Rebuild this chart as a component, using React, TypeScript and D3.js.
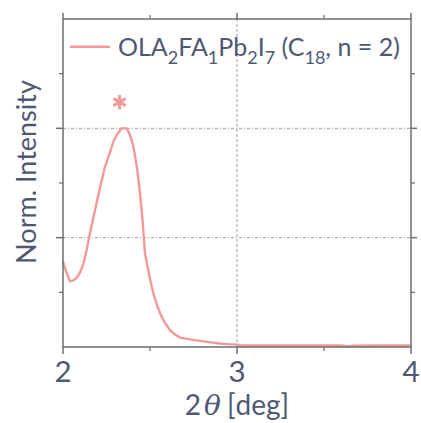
import React from "react";
import * as d3 from "d3";

// 2θ positions (deg) and normalized intensity of the low-angle reflection
const twoTheta = [
  2.0, 2.02, 2.04, 2.06, 2.082, 2.1, 2.117, 2.135, 2.155, 2.185, 2.213, 2.24, 2.27, 2.29,
  2.309, 2.337, 2.366, 2.385, 2.404, 2.425, 2.443, 2.458, 2.471, 2.495, 2.519, 2.543,
  2.567, 2.59, 2.615, 2.642, 2.672, 2.73, 2.787, 2.85, 2.9, 2.95, 3.0, 3.03, 3.2, 3.4,
  3.6, 3.63, 3.645, 3.66, 3.8, 4.0,
];
const intensity = [
  0.39, 0.34, 0.30, 0.305, 0.32, 0.345, 0.38, 0.44, 0.52, 0.63, 0.73, 0.82, 0.89, 0.94,
  0.97, 1.0, 1.0, 0.97, 0.92, 0.82, 0.70, 0.57, 0.43, 0.33, 0.245, 0.185,
  0.138, 0.105, 0.077, 0.058, 0.043, 0.035, 0.028, 0.021, 0.016, 0.013, 0.011, 0.007, 0.007, 0.007,
  0.007, 0.004, 0.002, 0.006, 0.007, 0.007,
];

// position of the peak marker (2θ, intensity)
const peakMark = [2.325, 1.12];

const xMajorTicks = [2, 3, 4];
const xMinorTicks = [2.5, 3.5];
const yMajorTicks = [0.5, 1.0];
const yMinorTicks = [0.25, 0.75, 1.25];
const xGrid = [3];

const W = 421;
const H = 423;
const margin = { left: 63, right: 10, top: 19, bottom: 76 };
const axisColor = "#6e6e6e";
const gridColor = "#a0a0a0";
const textColor = "#4f5873";
const lineColor = "#f29a97";
const font = "Lato, 'Open Sans', sans-serif";

export default function App() {
  const x = d3.scaleLinear().domain([2, 4]).range([margin.left, W - margin.right]);
  const y = d3.scaleLinear().domain([0, 1.5]).range([H - margin.bottom, margin.top]);
  const [x0, x1] = x.range();
  const [y0, y1] = y.range();

  const line = d3
    .line<number>()
    .x((_, i) => x(twoTheta[i]))
    .y((d) => y(d))
    .curve(d3.curveLinear);

  const asterisk = d3.symbol(d3.symbolAsterisk, 140)();

  return (
    <svg width={W} height={H} style={{ position: "absolute", left: 0, top: 0 }}>
      <rect width={W} height={H} fill="#fff" />

      {/* grid */}
      {yMajorTicks.map((t) => (
        <line key={"gy" + t} x1={x0} x2={x1} y1={y(t)} y2={y(t)} stroke={gridColor}
          strokeWidth={1} strokeDasharray="3,2,1,2" />
      ))}
      {xGrid.map((t) => (
        <line key={"gx" + t} x1={x(t)} x2={x(t)} y1={y0} y2={y1} stroke={gridColor}
          strokeWidth={1} strokeDasharray="3,2" />
      ))}

      {/* data */}
      <path d={line(intensity) ?? ""} fill="none" stroke={lineColor} strokeWidth={2.4}
        strokeLinejoin="round" />

      {/* peak marker */}
      <path d={asterisk ?? ""} transform={`translate(${x(peakMark[0])},${y(peakMark[1])})`}
        fill="none" stroke={lineColor} strokeWidth={3} />

      {/* frame */}
      <rect x={x0} y={y1} width={x1 - x0} height={y0 - y1} fill="none" stroke={axisColor}
        strokeWidth={1.5} />

      {/* ticks, outward on all four sides */}
      {xMajorTicks.map((t) => (
        <g key={"xt" + t}>
          <line x1={x(t)} x2={x(t)} y1={y0} y2={y0 + 7} stroke={axisColor} strokeWidth={1.5} />
          <line x1={x(t)} x2={x(t)} y1={y1} y2={y1 - 6} stroke={axisColor} strokeWidth={1.5} />
        </g>
      ))}
      {xMinorTicks.map((t) => (
        <g key={"xm" + t}>
          <line x1={x(t)} x2={x(t)} y1={y0} y2={y0 + 4} stroke={axisColor} strokeWidth={1.2} />
          <line x1={x(t)} x2={x(t)} y1={y1} y2={y1 - 4} stroke={axisColor} strokeWidth={1.2} />
        </g>
      ))}
      {yMajorTicks.map((t) => (
        <g key={"yt" + t}>
          <line x1={x0} x2={x0 - 7} y1={y(t)} y2={y(t)} stroke={axisColor} strokeWidth={1.5} />
          <line x1={x1} x2={x1 + 6} y1={y(t)} y2={y(t)} stroke={axisColor} strokeWidth={1.5} />
        </g>
      ))}
      {yMinorTicks.map((t) => (
        <g key={"ym" + t}>
          <line x1={x0} x2={x0 - 4} y1={y(t)} y2={y(t)} stroke={axisColor} strokeWidth={1.2} />
          <line x1={x1} x2={x1 + 4} y1={y(t)} y2={y(t)} stroke={axisColor} strokeWidth={1.2} />
        </g>
      ))}

      {/* tick labels */}
      {xMajorTicks.map((t) => (
        <text key={"xl" + t} x={x(t)} y={382} fill={textColor} fontSize={29.5} fontFamily={font}
          textAnchor="middle">{t}</text>
      ))}

      {/* axis titles */}
      <text x={237} y={415} fill={textColor} fontSize={28} fontFamily={font} textAnchor="middle">
        2<tspan fontFamily="'DejaVu Serif', serif" fontStyle="italic" dx={3}>θ</tspan>
        <tspan dx={6}>[deg]</tspan>
      </text>
      <text transform={`translate(36,${172}) rotate(-90)`} fill={textColor} fontSize={27}
        fontFamily={font} textAnchor="middle">Norm. Intensity</text>

      {/* legend */}
      <line x1={70} x2={110} y1={46.7} y2={46.7} stroke={lineColor} strokeWidth={2.4} />
      <text x={118} y={56} fill={textColor} fontSize={25} fontFamily={font}>
        OLA<tspan fontSize={18} dy={8}>2</tspan>
        <tspan dy={-8}>FA</tspan><tspan fontSize={18} dy={8}>1</tspan>
        <tspan dy={-8}>Pb</tspan><tspan fontSize={18} dy={8}>2</tspan>
        <tspan dy={-8}>I</tspan><tspan fontSize={18} dy={8}>7</tspan>
        <tspan dy={-8}> (C</tspan><tspan fontSize={18} dy={8}>18</tspan>
        <tspan dy={-8}>, n = 2)</tspan>
      </text>
    </svg>
  );
}
